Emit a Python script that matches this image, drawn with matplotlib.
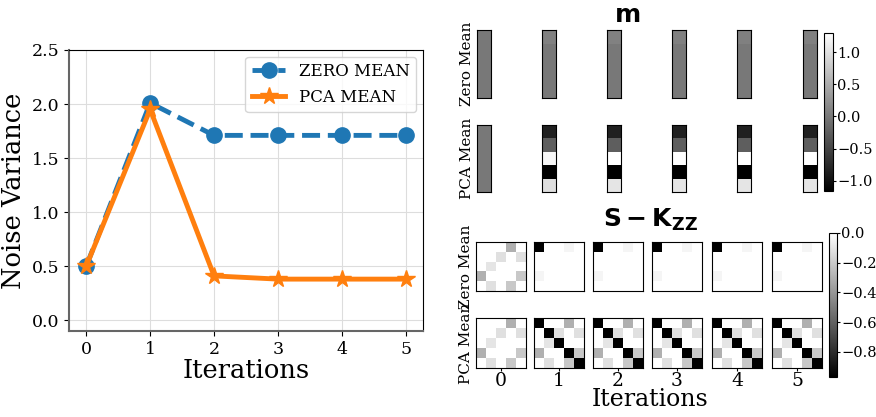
import numpy as np
import matplotlib
matplotlib.use('Agg')
import matplotlib.pyplot as plt

plt.rcParams['font.family'] = 'serif'

iterations = [0, 1, 2, 3, 4, 5]
zero_mean_noise = [0.50, 2.01, 1.71, 1.71, 1.71, 1.71]
pca_mean_noise = [0.50, 1.95, 0.41, 0.38, 0.38, 0.38]

# m vectors (5 entries) per iteration
m_zero = [
    [0.00, 0.00, 0.00, 0.00, 0.00],
    [0.08, 0.00, 0.00, 0.00, 0.00],
    [0.08, 0.00, 0.00, 0.00, 0.00],
    [0.07, 0.00, 0.00, 0.00, 0.00],
    [0.07, 0.00, 0.00, 0.00, 0.00],
    [0.07, 0.00, 0.00, 0.00, 0.00],
]
m_pca = [
    [0.00, 0.00, 0.00, 0.00, 0.00],
    [-0.85, -0.25, 1.22, -1.16, 0.98],
    [-0.85, -0.25, 1.30, -1.16, 1.05],
    [-0.85, -0.25, 1.30, -1.16, 1.05],
    [-0.85, -0.25, 1.30, -1.16, 1.05],
    [-0.85, -0.25, 1.30, -1.16, 1.05],
]

# S - Kzz matrices
s_init = [
    [0.00, 0.00, 0.00, -0.30, 0.00],
    [0.00, 0.00, -0.12, 0.00, -0.12],
    [0.00, -0.10, 0.00, 0.00, 0.00],
    [-0.30, 0.00, 0.00, 0.00, -0.21],
    [0.00, -0.12, 0.00, -0.21, 0.00],
]
s_zero_late = [
    [-0.97, 0.00, 0.00, -0.04, 0.00],
    [0.00, 0.00, 0.00, 0.00, 0.00],
    [0.00, 0.00, 0.00, 0.00, 0.00],
    [-0.04, 0.00, 0.00, 0.00, 0.00],
    [0.00, 0.00, 0.00, 0.00, 0.00],
]
s_pca_late = [
    [-0.97, 0.00, 0.00, -0.30, 0.00],
    [0.00, -0.97, -0.12, 0.00, -0.12],
    [0.00, -0.10, -0.97, 0.00, 0.00],
    [-0.30, 0.00, 0.00, -0.97, -0.21],
    [0.00, -0.12, 0.00, -0.21, -0.97],
]
s_zero = [s_init, s_zero_late, s_zero_late, s_zero_late, s_zero_late, s_zero_late]
s_pca = [s_init, s_pca_late, s_pca_late, s_pca_late, s_pca_late, s_pca_late]

W, H = 876, 417
fig = plt.figure(figsize=(W / 100, H / 100), dpi=100)


def px_axes(x0, y0, x1, y1):
    return fig.add_axes([x0 / W, 1 - y1 / H, (x1 - x0) / W, (y1 - y0) / H])


# ---- left: noise variance ----
ax = px_axes(69, 50, 423, 331)
ax.plot(iterations, zero_mean_noise, '--o', color='#1f77b4', lw=3.5, markersize=11, label='ZERO MEAN')
ax.plot(iterations, pca_mean_noise, '-*', color='#ff7f0e', lw=3.5, markersize=13, label='PCA MEAN')
ax.set_xlim(-0.27, 5.27)
ax.set_ylim(-0.1, 2.5)
ax.set_xticks(iterations)
ax.set_yticks([0.0, 0.5, 1.0, 1.5, 2.0, 2.5])
ax.tick_params(labelsize=12.5)
ax.grid(True, color='#dddddd')
ax.set_axisbelow(True)
for s in ['left', 'bottom']:
    ax.spines[s].set_color('#666666')
    ax.spines[s].set_linewidth(1.5)
ax.set_xlabel('Iterations', fontsize=18.5, labelpad=0)
ax.set_ylabel('Noise Variance', fontsize=18.5, labelpad=4)
ax.legend(loc='upper right', fontsize=12, borderaxespad=0.4)

# ---- right top: m ----
m_cols = [477, 542, 607, 672, 737, 803]
m_vmin, m_vmax = -1.16, 1.30
for row, (data, name) in enumerate([(m_zero, 'Zero Mean'), (m_pca, 'PCA Mean')]):
    y0, y1 = [(30, 98), (125, 192)][row]
    for i, x0 in enumerate(m_cols):
        a = px_axes(x0, y0, x0 + 14, y1)
        im_m = a.imshow(np.array(data[i]).reshape(-1, 1), cmap='gray', vmin=m_vmin, vmax=m_vmax,
                        aspect='auto', interpolation='nearest')
        a.set_xticks([])
        a.set_yticks([])
        if i == 0:
            a.set_ylabel(name, fontsize=11, labelpad=2)
cax = px_axes(824, 33, 833, 191)
cb = fig.colorbar(im_m, cax=cax, ticks=[1.0, 0.5, 0.0, -0.5, -1.0])
cb.ax.tick_params(labelsize=10.5, length=2, pad=1)
fig.text(627 / W, 1 - 15 / H, r'$\mathbf{m}$', fontsize=18, ha='center', va='center')

# ---- right bottom: S - Kzz ----
s_cols = [476, 534, 593, 652, 712, 772]
s_vmin, s_vmax = -0.97, 0.0
for row, (data, name) in enumerate([(s_zero, 'Zero Mean'), (s_pca, 'PCA Mean')]):
    y0, y1 = [(242, 291), (318, 368)][row]
    for i, x0 in enumerate(s_cols):
        a = px_axes(x0, y0, x0 + 50, y1)
        im_s = a.imshow(np.array(data[i]), cmap='gray', vmin=s_vmin, vmax=s_vmax,
                        aspect='auto', interpolation='nearest')
        a.set_yticks([])
        if row == 1:
            a.set_xticks([2])
            a.set_xticklabels([str(iterations[i])], fontsize=13.5)
            a.tick_params(axis='x', length=2, pad=1)
        else:
            a.set_xticks([])
        if i == 0:
            a.set_ylabel(name, fontsize=11, labelpad=2)
cax2 = px_axes(829, 233, 837, 377)
cb2 = fig.colorbar(im_s, cax=cax2, ticks=[0.0, -0.2, -0.4, -0.6, -0.8])
cb2.ax.tick_params(labelsize=10.5, length=2, pad=1)
fig.text(650 / W, 1 - 220 / H, r'$\mathbf{S - K_{ZZ}}$', fontsize=18, ha='center', va='center')
fig.text(650 / W, 1 - 400 / H, 'Iterations', fontsize=17, ha='center', va='center')

fig.savefig('out.png', dpi=100)
